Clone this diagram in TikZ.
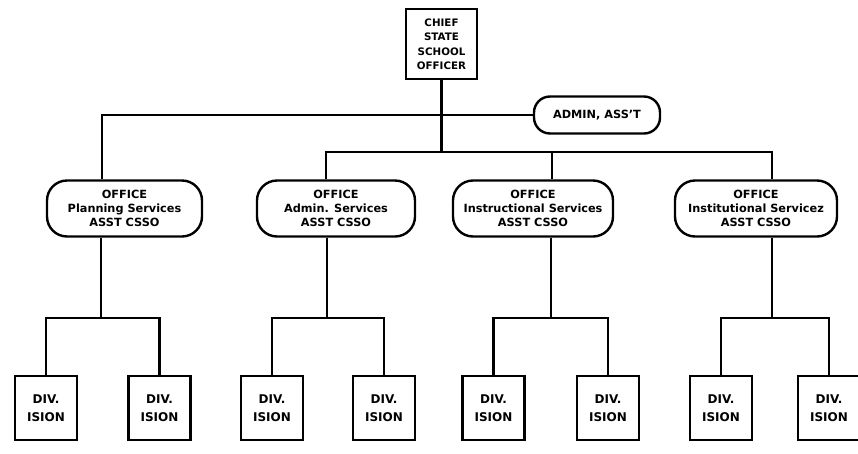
\documentclass[tikz,border=0pt]{standalone}
\usepackage{fontspec}
\setmainfont{DejaVu Sans}
\begin{document}
\begin{tikzpicture}[x=1pt,y=-1pt,
  conn/.style={line width=2.6pt,line join=miter},
  boxbase/.style={draw,line width=2.4pt,inner sep=0pt,align=center,font=\bfseries},
  chiefbox/.style={boxbase,minimum width=71pt,minimum height=70pt,font=\bfseries\fontsize{10.3}{14.5}\selectfont},
  asstbox/.style={boxbase,rounded corners=16pt,minimum width=126pt,minimum height=37pt,font=\bfseries\fontsize{11.3}{12}\selectfont},
  officebox/.style={boxbase,rounded corners=20pt,minimum height=56pt,font=\bfseries\fontsize{11.3}{14}\selectfont},
  divbox/.style={boxbase,minimum width=62pt,minimum height=64pt,font=\bfseries\fontsize{12}{17.5}\selectfont}]
\useasboundingbox (0,0) rectangle (858,453);
\fill[white] (0,0) rectangle (858,453);

% top
\node[chiefbox] (chief) at (441.5,44) {CHIEF\\STATE\\SCHOOL\\OFFICER};
\node[asstbox] (asst) at (597,115) {ADMIN, ASS'T};

% offices
\node[officebox,minimum width=155pt] (plan) at (124.5,208.5) {OFFICE\\Planning Services\\ASST CSSO};
\node[officebox,minimum width=158pt] (adm) at (336,208.5) {OFFICE\\Admin. Services\\ASST CSSO};
\node[officebox,minimum width=160pt] (ins) at (533,208.5) {OFFICE\\Instructional Services\\ASST CSSO};
\node[officebox,minimum width=162pt] (inst) at (756,208.5) {OFFICE\\Institutional Servicez\\ASST CSSO};

% divisions
\foreach \n/\x in {d1/46,d2/159.5,d3/272,d4/384,d5/493.5,d6/608,d7/721,d8/829}
  \node[divbox] (\n) at (\x,408) {DIV.\\ISION};

% junction coordinates
\coordinate (pv) at (102,115);
\coordinate (av) at (326,152);
\coordinate (iv) at (552,152);
\coordinate (tv) at (772,152);
\coordinate (b1) at (101,318);
\coordinate (b2) at (327,318);
\coordinate (b3) at (551,318);
\coordinate (b4) at (772,318);

% connectors
\draw[conn] (chief.south) -- (chief.south |- av);
\draw[conn] (asst.west) -- (pv) -- (pv |- plan.north);
\draw[conn] (av |- adm.north) -- (av) -- (tv) -- (tv |- inst.north);
\draw[conn] (iv) -- (iv |- ins.north);

\draw[conn] (b1 |- plan.south) -- (b1);
\draw[conn] (d1.north) |- (b1) -| (d2.north);
\draw[conn] (b2 |- adm.south) -- (b2);
\draw[conn] (d3.north) |- (b2) -| (d4.north);
\draw[conn] (b3 |- ins.south) -- (b3);
\draw[conn] (d5.north) |- (b3) -| (d6.north);
\draw[conn] (b4 |- inst.south) -- (b4);
\draw[conn] (d7.north) |- (b4) -| (d8.north);
\end{tikzpicture}
\end{document}
